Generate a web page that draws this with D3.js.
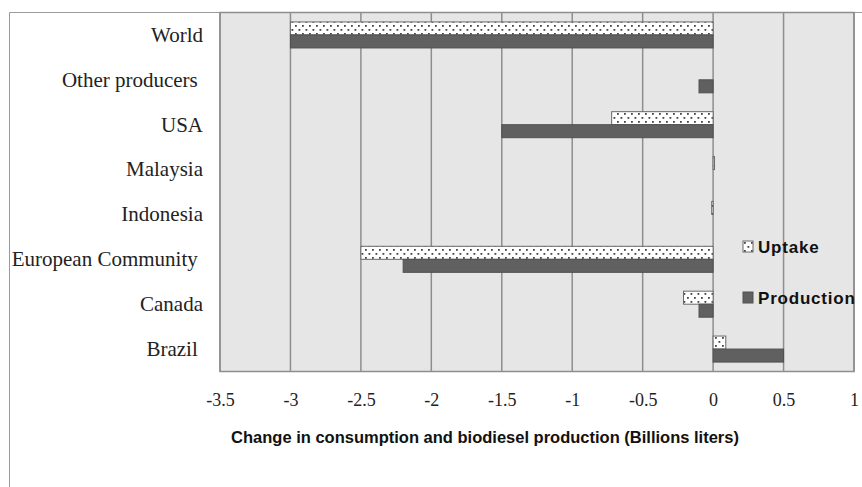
<!DOCTYPE html>
<html>
<head>
<meta charset="utf-8">
<script src="https://cdn.jsdelivr.net/npm/d3@7"></script>
<style>
  html, body { margin: 0; padding: 0; background: #fff; }
  svg { display: block; }
  .cat { white-space: pre; }
</style>
</head>
<body>
<svg id="chart" width="862" height="487"></svg>
<script>
// ---- data ----
const categories = ["World", "Other producers ", "USA", "Malaysia", "Indonesia", "European Community ", "Canada", "Brazil "];
const uptake     = [-3.0, 0, -0.72, 0.01, -0.01, -2.5, -0.21, 0.09];
const production = [-3.0, -0.1, -1.5, 0, 0, -2.2, -0.1, 0.5];
const seriesNames = ["Uptake", "Production"];
const tickValues = [-3.5, -3, -2.5, -2, -1.5, -1, -0.5, 0, 0.5, 1];
const tickLabels = ["-3.5", "-3", "-2.5", "-2", "-1.5", "-1", "-0.5", "0", "0.5", "1"];
const axisTitle = "Change in consumption and biodiesel production (Billions liters)";

// ---- setup ----
const svg = d3.select("#chart");
const W = 862, H = 487;
const plot = { left: 220, right: 854, top: 12.5, bottom: 371.5 };
const serif = "'Liberation Serif', 'Times New Roman', serif";
const sans = "'Liberation Sans', Arial, sans-serif";

const defs = svg.append("defs");
const pat = defs.append("pattern")
  .attr("id", "dots").attr("patternUnits", "userSpaceOnUse")
  .attr("width", 7).attr("height", 8);
pat.append("rect").attr("width", 7).attr("height", 8).attr("fill", "#fff");
pat.append("rect").attr("x", 1).attr("y", 1).attr("width", 1.8).attr("height", 1.8).attr("fill", "#444");
pat.append("rect").attr("x", 4.5).attr("y", 5).attr("width", 1.8).attr("height", 1.8).attr("fill", "#444");

// outer frame
svg.append("path")
  .attr("d", `M9.5,${H} V12.5 H${W}`)
  .attr("fill", "none").attr("stroke", "#9a9a9a").attr("stroke-width", 1);

const x = d3.scaleLinear().domain([-3.5, 1]).range([plot.left, plot.right]);
const y = d3.scaleBand().domain(categories).range([plot.top, plot.bottom])
  .paddingInner(0.42).paddingOuter(0.21);
const ySub = d3.scaleBand().domain(seriesNames).range([0, y.bandwidth()]);

// plot background
svg.append("rect")
  .attr("x", plot.left).attr("y", plot.top)
  .attr("width", plot.right - plot.left).attr("height", plot.bottom - plot.top)
  .attr("fill", "#e6e6e6");

// gridlines
svg.append("g").selectAll("line").data(tickValues).join("line")
  .attr("x1", d => x(d)).attr("x2", d => x(d))
  .attr("y1", plot.top).attr("y2", plot.bottom)
  .attr("stroke", "#8e8e8e").attr("stroke-width", 1.5);

// plot border
svg.append("rect")
  .attr("x", plot.left).attr("y", plot.top)
  .attr("width", plot.right - plot.left).attr("height", plot.bottom - plot.top)
  .attr("fill", "none").attr("stroke", "#8e8e8e").attr("stroke-width", 1.5);

// bars
const rows = categories.map((c, i) => ({ c, u: uptake[i], p: production[i] }));
const g = svg.append("g");
g.selectAll("rect.up").data(rows.filter(d => d.u !== 0)).join("rect")
  .attr("class", "up")
  .attr("x", d => Math.min(x(0), x(d.u)))
  .attr("width", d => Math.abs(x(d.u) - x(0)))
  .attr("y", d => y(d.c) + ySub("Uptake"))
  .attr("height", ySub.bandwidth())
  .attr("fill", "url(#dots)").attr("stroke", "#6a6a6a").attr("stroke-width", 1);
g.selectAll("rect.pr").data(rows.filter(d => d.p !== 0)).join("rect")
  .attr("class", "pr")
  .attr("x", d => Math.min(x(0), x(d.p)))
  .attr("width", d => Math.abs(x(d.p) - x(0)))
  .attr("y", d => y(d.c) + ySub("Production"))
  .attr("height", ySub.bandwidth())
  .attr("fill", "#606060").attr("stroke", "#505050").attr("stroke-width", 1);

// category labels
svg.append("g").selectAll("text").data(categories).join("text")
  .attr("class", "cat")
  .attr("x", 203).attr("y", d => y(d) + y.bandwidth() / 2)
  .attr("dy", "0.33em")
  .attr("text-anchor", "end")
  .style("font-family", serif)
  .style("font-size", "21px").attr("fill", "#222")
  .text(d => d);

// x axis
const xAxis = d3.axisBottom(x).tickValues(tickValues)
  .tickFormat((d, i) => tickLabels[i]).tickSize(0).tickPadding(0);
const ax = svg.append("g").attr("transform", `translate(0,${plot.bottom})`).call(xAxis);
ax.attr("font-family", null).attr("font-size", null);
ax.select(".domain").remove();
ax.selectAll("text")
  .attr("y", 34.5).attr("dy", 0)
  .style("font-family", serif)
  .style("font-size", "18px").attr("fill", "#222");

// axis title
svg.append("text")
  .attr("x", 485).attr("y", 443)
  .attr("text-anchor", "middle")
  .style("font-family", sans)
  .style("font-weight", "bold").style("font-size", "16.5px").attr("fill", "#111")
  .text(axisTitle);

// legend
const legY = [241, 292];
const leg = svg.append("g").selectAll("g").data(seriesNames).join("g")
  .attr("transform", (d, i) => `translate(743,${legY[i]})`);
leg.append("rect")
  .attr("width", 10).attr("height", 11)
  .attr("fill", (d, i) => i === 0 ? "url(#dots)" : "#606060")
  .attr("stroke", (d, i) => i === 0 ? "#6a6a6a" : "#505050");
leg.append("text")
  .attr("x", 15).attr("y", 11.8)
  .style("font-family", sans)
  .style("font-weight", "bold").style("font-size", "17px")
  .attr("letter-spacing", 0.8).attr("fill", "#111")
  .text(d => d);
</script>
</body>
</html>
